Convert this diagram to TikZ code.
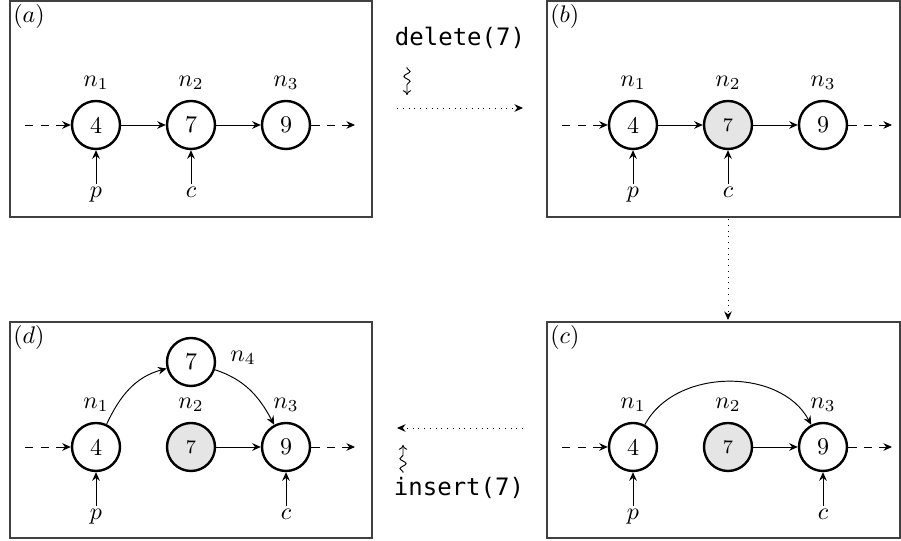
\documentclass[tikz,border=0pt]{standalone}
\usepackage{fontspec}
\setmonofont{DejaVu Sans Mono}
\usetikzlibrary{arrows.meta,decorations.pathmorphing}
\begin{document}
\begin{tikzpicture}[x=0.4167pt,y=0.4167pt,
  elem/.style={circle,draw,line width=1pt,minimum size=20pt,inner sep=0pt},
  removed/.style={elem,fill=black!10,font=\footnotesize},
  panel/.style={draw=black!75,line width=0.6pt},
  tag/.style={anchor=north west,inner sep=1.2pt},
  ptr/.style={inner sep=0pt,outer sep=1.5pt,text height=1ex,text depth=0.45ex},
  link/.style={-{Stealth[length=3.6pt,width=3.2pt,inset=1.2pt]},line width=0.4pt},
  ext/.style={link,dash pattern=on 3.5pt off 3pt},
  step arrow/.style={link,dotted},
  squig/.style={-{To[length=2pt,width=3.5pt]},line width=0.4pt,decorate,
    decoration={snake,amplitude=1.3pt,segment length=4.2pt,pre length=0.5pt,post length=2.5pt}}]
\useasboundingbox (0,0) rectangle (901,-541);

% ---------- (a) ----------
\draw[panel] (10,-1) rectangle (372,-217);
\node[tag] at (10,-1) {$(a)$};
\node[elem] (a1) at (96,-125) {4};
\node[elem] (a2) at (191,-125) {7};
\node[elem] (a3) at (286,-125) {9};
\node at (96,-83) {$n_1$};
\node at (191,-83) {$n_2$};
\node at (286,-83) {$n_3$};
\node[ptr] (ap) at (96,-195) {$p$};
\node[ptr] (ac) at (191,-195) {$c$};
\coordinate (ain) at (25,-125);
\coordinate (aout) at (355,-125);
\draw[ext] (ain) -- (a1);
\draw[link] (a1) -- (a2);
\draw[link] (a2) -- (a3);
\draw[ext] (a3) -- (aout);
\draw[link] (ap) -- (a1);
\draw[link] (ac) -- (a2);

% ---------- (b) ----------
\draw[panel] (547,-1) rectangle (900,-217);
\node[tag] at (547,-1) {$(b)$};
\node[elem] (b1) at (633,-125) {4};
\node[removed] (b2) at (728,-125) {7};
\node[elem] (b3) at (823,-125) {9};
\node at (633,-83) {$n_1$};
\node at (728,-83) {$n_2$};
\node at (823,-83) {$n_3$};
\node[ptr] (bp) at (633,-195) {$p$};
\node[ptr] (bc) at (728,-195) {$c$};
\coordinate (bin) at (562,-125);
\coordinate (bout) at (892,-125);
\draw[ext] (bin) -- (b1);
\draw[link] (b1) -- (b2);
\draw[link] (b2) -- (b3);
\draw[ext] (b3) -- (bout);
\draw[link] (bp) -- (b1);
\draw[link] (bc) -- (b2);

% ---------- (c) ----------
\draw[panel] (547,-322) rectangle (900,-538);
\node[tag] at (547,-322) {$(c)$};
\node[elem] (c1) at (633,-447) {4};
\node[removed] (c2) at (728,-447) {7};
\node[elem] (c3) at (823,-447) {9};
\node at (633,-405) {$n_1$};
\node at (728,-405) {$n_2$};
\node at (823,-405) {$n_3$};
\node[ptr] (cp) at (633,-517) {$p$};
\node[ptr] (cc) at (823,-517) {$c$};
\coordinate (cin) at (562,-447);
\coordinate (cout) at (892,-447);
\draw[ext] (cin) -- (c1);
\draw[link] (c1) to[out=62,in=118] (c3);
\draw[link] (c2) -- (c3);
\draw[ext] (c3) -- (cout);
\draw[link] (cp) -- (c1);
\draw[link] (cc) -- (c3);

% ---------- (d) ----------
\draw[panel] (10,-322) rectangle (372,-538);
\node[tag] at (10,-322) {$(d)$};
\node[elem] (d1) at (96,-447) {4};
\node[removed] (d2) at (191,-447) {7};
\node[elem] (d3) at (286,-447) {9};
\node[elem] (d4) at (191,-362) {7};
\node at (96,-405) {$n_1$};
\node at (191,-405) {$n_2$};
\node at (286,-405) {$n_3$};
\node at (243,-358) {$n_4$};
\node[ptr] (dp) at (96,-517) {$p$};
\node[ptr] (dc) at (286,-517) {$c$};
\coordinate (din) at (25,-447);
\coordinate (dout) at (355,-447);
\draw[ext] (din) -- (d1);
\draw[link] (d1) to[out=65,in=195] (d4);
\draw[link] (d4) to[out=-18,in=118] (d3);
\draw[link] (d2) -- (d3);
\draw[ext] (d3) -- (dout);
\draw[link] (dp) -- (d1);
\draw[link] (dc) -- (d3);

% ---------- transitions ----------
\node (del) at (460,-38) {\texttt{delete(7)}};
\coordinate (delsq0) at (407,-67);
\coordinate (delsq1) at (407,-95);
\draw[squig] (delsq0) -- (delsq1);
\coordinate (ab0) at (397,-108);
\coordinate (ab1) at (523,-108);
\draw[step arrow] (ab0) -- (ab1);

\coordinate (bc0) at (728,-219);
\coordinate (bc1) at (728,-320);
\draw[step arrow] (bc0) -- (bc1);

\coordinate (cd0) at (523,-428);
\coordinate (cd1) at (397,-428);
\draw[step arrow] (cd0) -- (cd1);
\coordinate (inssq0) at (403,-473);
\coordinate (inssq1) at (403,-445);
\draw[squig] (inssq0) -- (inssq1);
\node (ins) at (459,-488) {\texttt{insert(7)}};
\end{tikzpicture}
\end{document}
